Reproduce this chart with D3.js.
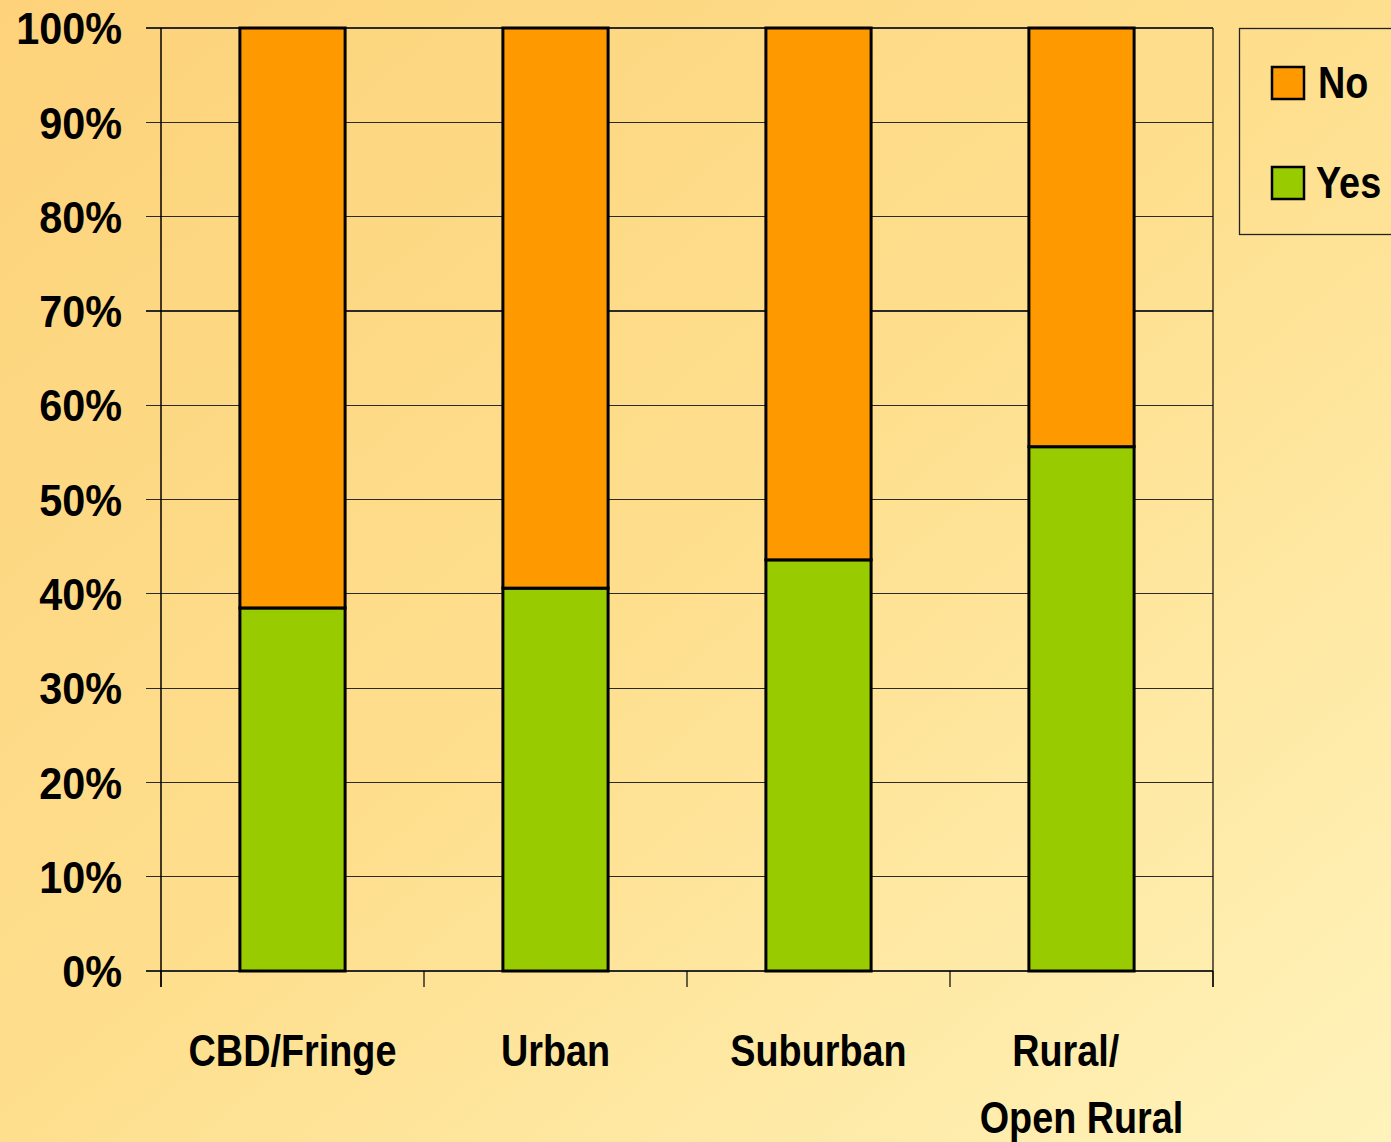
<!DOCTYPE html>
<html>
<head>
<meta charset="utf-8">
<style>
  html, body { margin: 0; padding: 0; }
  body { width: 1391px; height: 1142px; overflow: hidden; }
  .lbl { font-family: "Liberation Sans", Arial, sans-serif; font-weight: bold; fill: #000; }
</style>
</head>
<body>
<script src="https://cdn.jsdelivr.net/npm/d3@7/dist/d3.min.js"></script>
<script>
// data
const categories = ["CBD/Fringe", "Urban", "Suburban", "Rural/ Open Rural"];
const categoryLines = [["CBD/Fringe"], ["Urban"], ["Suburban"], ["Rural/\u00a0\u00a0\u00a0", "Open Rural"]];
const yesValues = [0.385, 0.406, 0.436, 0.556];
const noValues = yesValues.map(v => 1 - v);
const yTicks = [0, 0.1, 0.2, 0.3, 0.4, 0.5, 0.6, 0.7, 0.8, 0.9, 1.0];
const seriesNames = ["No", "Yes"];
const seriesColors = {"Yes": "#99cc00", "No": "#ff9900"};

const W = 1391, H = 1142;
const plot = {left: 161, right: 1213, top: 28, bottom: 971};
const narrow = 0.84; // squeeze text horizontally to get a condensed face

const svg = d3.select("body").append("svg")
    .attr("width", W)
    .attr("height", H);

// background gradient
const defs = svg.append("defs");
const grad = defs.append("linearGradient")
    .attr("id", "bg")
    .attr("x1", "0%").attr("y1", "0%")
    .attr("x2", "100%").attr("y2", "100%");
grad.append("stop").attr("offset", "0%").attr("stop-color", "#fdd27a");
grad.append("stop").attr("offset", "50%").attr("stop-color", "#fedf8e");
grad.append("stop").attr("offset", "100%").attr("stop-color", "#fff3bb");
svg.append("rect").attr("width", W).attr("height", H).attr("fill", "url(#bg)");

const x = d3.scaleBand()
    .domain(categories)
    .range([plot.left, plot.right])
    .paddingInner(0.6)
    .paddingOuter(0.3);

const y = d3.scaleLinear()
    .domain([0, 1])
    .range([plot.bottom, plot.top]);

// gridlines + y ticks
svg.append("g").selectAll("line")
    .data(yTicks)
    .join("line")
    .attr("x1", plot.left - 15)
    .attr("x2", plot.right)
    .attr("y1", d => y(d))
    .attr("y2", d => y(d))
    .attr("stroke", "#2a2a2a")
    .attr("stroke-width", 1.2)
    .attr("shape-rendering", "crispEdges");

// plot borders left and right
svg.append("line")
    .attr("x1", plot.left).attr("x2", plot.left)
    .attr("y1", plot.top).attr("y2", plot.bottom + 16)
    .attr("stroke", "#000").attr("stroke-width", 1.5);
svg.append("line")
    .attr("x1", plot.right).attr("x2", plot.right)
    .attr("y1", plot.top).attr("y2", plot.bottom + 16)
    .attr("stroke", "#000").attr("stroke-width", 1.2);

// x ticks between categories
const step = x.step();
const xTickPos = d3.range(categories.length + 1).map(i => plot.left + i * step);
svg.append("g").selectAll("line")
    .data(xTickPos)
    .join("line")
    .attr("x1", d => d).attr("x2", d => d)
    .attr("y1", plot.bottom)
    .attr("y2", plot.bottom + 16)
    .attr("stroke", "#000")
    .attr("stroke-width", 1.2);

// y labels
svg.append("g").selectAll("text")
    .data(yTicks)
    .join("text")
    .attr("class", "lbl")
    .attr("transform", d => `translate(122,${y(d)}) scale(0.92,1)`)
    .attr("dy", "0.36em")
    .attr("text-anchor", "end")
    .attr("font-size", 45)
    .text(d => Math.round(d * 100) + "%");

// stacked bars
const rows = categories.map((c, i) => ({cat: c, Yes: yesValues[i], No: noValues[i]}));
const stack = d3.stack().keys(["Yes", "No"]);
const stacked = stack(rows);

svg.append("g").selectAll("g")
    .data(stacked)
    .join("g")
    .attr("fill", d => seriesColors[d.key])
    .selectAll("rect")
    .data(d => d)
    .join("rect")
    .attr("x", d => x(d.data.cat))
    .attr("y", d => y(d[1]))
    .attr("width", x.bandwidth())
    .attr("height", d => y(d[0]) - y(d[1]))
    .attr("stroke", "#000")
    .attr("stroke-width", 3);

// x labels
const xl = svg.append("g").selectAll("text")
    .data(categories)
    .join("text")
    .attr("class", "lbl")
    .attr("font-size", 45)
    .attr("text-anchor", "middle")
    .attr("transform", d => `translate(${x(d) + x.bandwidth() / 2},1066) scale(${narrow},1)`);
xl.selectAll("tspan")
    .data((d, i) => categoryLines[i])
    .join("tspan")
    .attr("x", 0)
    .attr("y", (d, i) => i * 67)
    .text(d => d);

// legend
const legend = svg.append("g");
legend.append("rect")
    .attr("x", 1239.5)
    .attr("y", 28.5)
    .attr("width", 170)
    .attr("height", 206)
    .attr("fill", "none")
    .attr("stroke", "#222")
    .attr("stroke-width", 1.3);

const li = legend.selectAll("g.item")
    .data(seriesNames)
    .join("g")
    .attr("class", "item")
    .attr("transform", (d, i) => `translate(1272,${67 + i * 100})`);
li.append("rect")
    .attr("width", 32)
    .attr("height", 32)
    .attr("fill", d => seriesColors[d])
    .attr("stroke", "#000")
    .attr("stroke-width", 2.5);
li.append("text")
    .attr("class", "lbl")
    .attr("transform", (d, i) => `translate(${i ? 44 : 46},31) scale(${narrow},1)`)
    .attr("font-size", 45)
    .text(d => d);
</script>
</body>
</html>
